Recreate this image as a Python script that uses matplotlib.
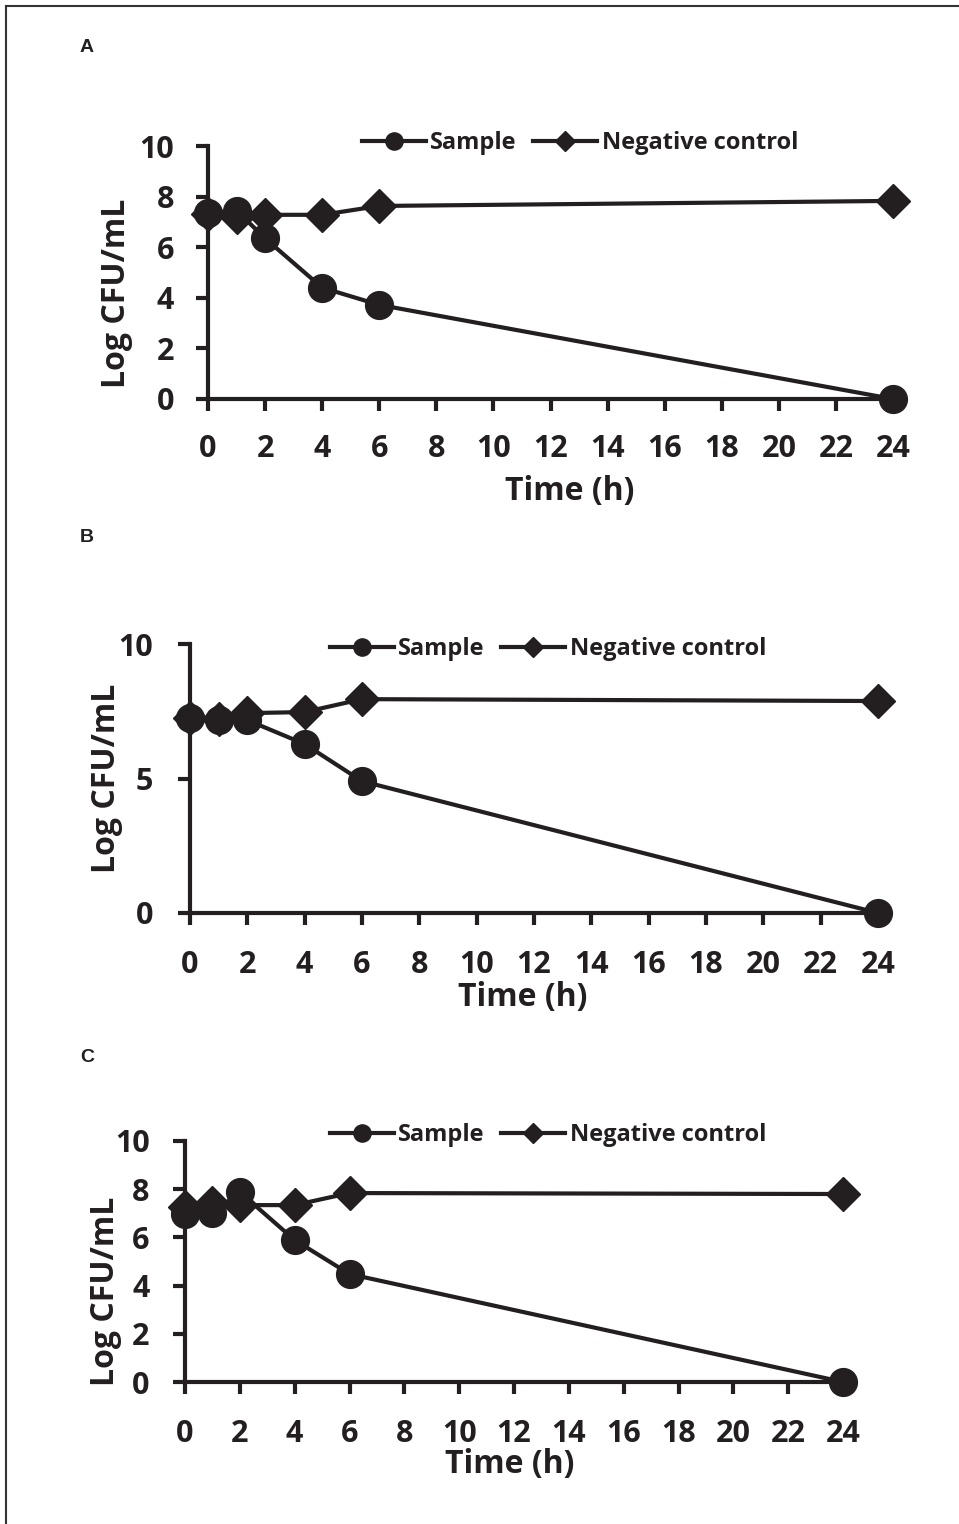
import matplotlib
matplotlib.use("Agg")
import matplotlib.pyplot as plt
from matplotlib.lines import Line2D

# ---- datos (tiempo en h, Log CFU/mL) ----
time_h = [0, 1, 2, 4, 6, 24]

sample_a = [7.35, 7.45, 6.35, 4.4, 3.72, 0.0]
control_a = [7.3, 7.2, 7.28, 7.28, 7.63, 7.83]

sample_b = [7.25, 7.17, 7.17, 6.28, 4.9, 0.0]
control_b = [7.25, 7.2, 7.43, 7.47, 7.95, 7.88]

sample_c = [6.97, 7.0, 7.88, 5.89, 4.48, 0.0]
control_c = [7.26, 7.43, 7.34, 7.34, 7.84, 7.8]

xticks = list(range(0, 25, 2))
yticks_a = [0, 2, 4, 6, 8, 10]
yticks_b = [0, 5, 10]
yticks_c = [0, 2, 4, 6, 8, 10]

panel_names = ["A", "B", "C"]

plt.rcParams['font.family'] = ['Open Sans', 'DejaVu Sans']
plt.rcParams['font.weight'] = 'bold'
INK = '#231f20'

W, H = 959, 1524
fig = plt.figure(figsize=(W / 100, H / 100), dpi=100)


def px_axes(left, right, top, bottom):
    return fig.add_axes([left / W, 1 - bottom / H, (right - left) / W, (bottom - top) / H])


# posiciones en píxeles de cada panel: (izq, der, arriba, abajo)
boxes = [(208, 893, 146, 399), (190, 878, 644, 913), (185, 843, 1141, 1382)]
series = [(sample_a, control_a, yticks_a), (sample_b, control_b, yticks_b),
          (sample_c, control_c, yticks_c)]
legend_pos = [(580, 143), (548, 649), (548, 1135)]
ylabel_pos = [(-0.109, 0.417), (-0.097, 0.5), (-0.096, 0.377)]
xlabel_pos = [(0.528, -0.30), (0.483, -0.252), (0.494, -0.274)]
xpad = [17, 18, 18]
ypad = [16, 18, 17]
label_pos = [(80, 48), (80, 538), (80, 1057)]

for i in range(3):
    ax = px_axes(*boxes[i])
    s, c, yt = series[i]
    ax.plot(time_h, s, '-o', color=INK, lw=3, ms=20, clip_on=False,
            zorder=3, label='Sample')
    ax.plot(time_h, c, '-D', color=INK, lw=3, ms=17, clip_on=False,
            zorder=2, label='Negative control')

    ax.set_xlim(0, 24)
    ax.set_ylim(0, 10)
    ax.set_xticks(xticks)
    ax.set_yticks(yt)
    ax.tick_params(direction='out', length=8.5, width=3, labelsize=22,
                   colors=INK)
    ax.tick_params(axis='x', pad=xpad[i])
    ax.tick_params(axis='y', pad=ypad[i])
    for side in ['top', 'right']:
        ax.spines[side].set_visible(False)
    for side in ['left', 'bottom']:
        ax.spines[side].set_linewidth(3)
        ax.spines[side].set_color(INK)

    ax.set_ylabel('Log CFU/mL', fontsize=23, fontweight='bold', color=INK)
    ax.yaxis.set_label_coords(*ylabel_pos[i])
    ax.set_xlabel('Time (h)', fontsize=23, fontweight='bold', color=INK)
    ax.xaxis.set_label_coords(*xlabel_pos[i])

    lx, ly = legend_pos[i]
    ax.legend(loc='center', bbox_to_anchor=(lx / W, 1 - ly / H),
              bbox_transform=fig.transFigure, ncol=2, frameon=False,
              prop={'size': 17, 'weight': 'bold'}, markerscale=0.62,
              handlelength=2.7, handletextpad=0.2, columnspacing=0.7,
              borderpad=0, labelcolor=INK)

    px, py = label_pos[i]
    fig.text(px / W, 1 - py / H, panel_names[i], fontsize=14, fontweight='bold',
             family=['Liberation Sans', 'DejaVu Sans'], va='center', ha='left',
             color=INK)

# marco de la figura (solo arriba e izquierda visibles)
fig.add_artist(Line2D([6 / W, 6 / W], [0, 1 - 6 / H], color='#333333', lw=1.5))
fig.add_artist(Line2D([6 / W, 1], [1 - 6 / H, 1 - 6 / H], color='#333333', lw=1.5))

fig.savefig('out.png', dpi=100)
